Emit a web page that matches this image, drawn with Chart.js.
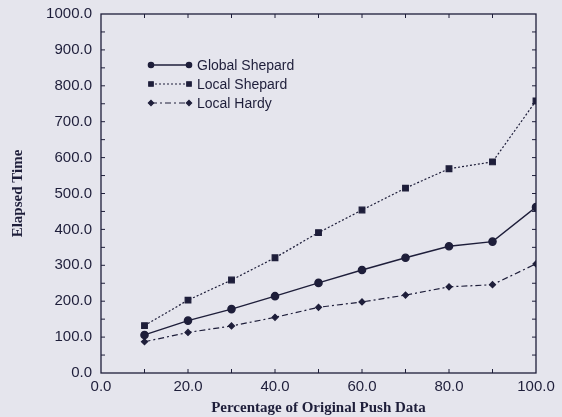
<!DOCTYPE html>
<html>
<head>
<meta charset="utf-8">
<script src="https://cdn.jsdelivr.net/npm/chart.js@4"></script>
<style>
  html, body { margin: 0; padding: 0; background: #e5e5ed; }
  #wrap { width: 562px; height: 417px; }
</style>
</head>
<body>
<div id="wrap"><canvas id="elapsedChart" width="562" height="417"></canvas></div>
<script>
const percentages = [10, 20, 30, 40, 50, 60, 70, 80, 90, 100];
const globalShepard = [106, 146, 178, 214, 251, 287, 321, 353, 366, 462];
const localShepard = [132, 203, 259, 321, 391, 454, 515, 569, 588, 758];
const localHardy = [87, 113, 131, 155, 183, 198, 217, 240, 246, 304];
const seriesNames = ['Global Shepard', 'Local Shepard', 'Local Hardy'];

const ink = '#1e1e3a';
const sans = '"Liberation Sans", Arial, sans-serif';
const serif = '"Liberation Serif", "Times New Roman", serif';

const toPoints = (vals) => vals.map((v, i) => ({ x: percentages[i], y: v }));

// box round the plot with inward ticks on all sides, legend drawn inside
const framePlugin = {
    id: 'frame',
    afterDraw(chart) {
        const { ctx, chartArea: a, scales } = chart;
        ctx.save();
        ctx.strokeStyle = ink;
        ctx.lineWidth = 1.3;
        ctx.strokeRect(a.left, a.top, a.right - a.left, a.bottom - a.top);
        ctx.lineWidth = 1;
        for (let v = 10; v < 100; v += 10) {
            const px = scales.x.getPixelForValue(v);
            ctx.beginPath();
            ctx.moveTo(px, a.bottom); ctx.lineTo(px, a.bottom - 4);
            ctx.moveTo(px, a.top); ctx.lineTo(px, a.top + 4);
            ctx.stroke();
        }
        for (let v = 50; v < 1000; v += 50) {
            const py = scales.y.getPixelForValue(v);
            ctx.beginPath();
            ctx.moveTo(a.left, py); ctx.lineTo(a.left + 4, py);
            ctx.moveTo(a.right, py); ctx.lineTo(a.right - 4, py);
            ctx.stroke();
        }
        // legend
        const rows = [65, 84, 103];
        const legendRadius = [2.6, 3.2, 2.6];
        ctx.font = '14px ' + sans;
        ctx.textBaseline = 'middle';
        chart.data.datasets.forEach((ds, i) => {
            const y = rows[i];
            ctx.strokeStyle = ink;
            ctx.fillStyle = ink;
            ctx.lineWidth = ds.borderWidth;
            ctx.setLineDash(ds.borderDash || []);
            ctx.beginPath();
            ctx.moveTo(151, y); ctx.lineTo(189, y);
            ctx.stroke();
            ctx.setLineDash([]);
            [151, 189].forEach(x => {
                Chart.helpers.drawPoint(ctx, {
                    pointStyle: ds.pointStyle, radius: legendRadius[i], borderWidth: 1
                }, x, y);
            });
            ctx.fillStyle = ink;
            ctx.fillText(ds.label, 197, y + 1);
        });
        ctx.restore();
    }
};

const ctx = document.getElementById('elapsedChart');
const chart = new Chart(ctx, {
    type: 'line',
    data: {
        datasets: [{
            label: seriesNames[0],
            data: toPoints(globalShepard),
            borderColor: ink, backgroundColor: ink,
            borderWidth: 1.4,
            pointStyle: 'circle', pointRadius: 3.6
        }, {
            label: seriesNames[1],
            data: toPoints(localShepard),
            borderColor: ink, backgroundColor: ink,
            borderWidth: 1.2, borderDash: [2, 2],
            pointStyle: 'rect', pointRadius: 4
        }, {
            label: seriesNames[2],
            data: toPoints(localHardy),
            borderColor: ink, backgroundColor: ink,
            borderWidth: 1.2, borderDash: [6, 3, 2, 3],
            pointStyle: 'rectRot', pointRadius: 3
        }]
    },
    options: {
        responsive: false,
        animation: false,
        layout: { padding: { left: 4, right: 26, top: 14, bottom: 0 } },
        plugins: { legend: { display: false }, tooltip: { enabled: false } },
        scales: {
            x: {
                type: 'linear', min: 0, max: 100,
                grid: { display: false, drawTicks: false },
                border: { display: false },
                afterFit: (s) => { s.height = 44; },
                ticks: {
                    stepSize: 20, color: ink, padding: 5,
                    font: { family: sans, size: 15 },
                    callback: (v) => v.toFixed(1)
                },
                title: {
                    display: true, text: 'Percentage of Original Push Data', color: ink,
                    font: { family: serif, size: 15, weight: 'bold' },
                    padding: { top: 0, bottom: 0 }
                }
            },
            y: {
                min: 0, max: 1000,
                grid: { display: false, drawTicks: false },
                border: { display: false },
                afterFit: (s) => { s.width = 97; s.paddingTop = 0; s.paddingBottom = 0; },
                ticks: {
                    stepSize: 100, color: ink, padding: 9,
                    font: { family: sans, size: 15 },
                    callback: (v) => v.toFixed(1)
                },
                title: {
                    display: true, text: 'Elapsed Time', color: ink,
                    font: { family: serif, size: 15, weight: 'bold' },
                    padding: { top: 5, bottom: 0 }
                }
            }
        }
    },
    plugins: [framePlugin]
});
</script>
</body>
</html>
